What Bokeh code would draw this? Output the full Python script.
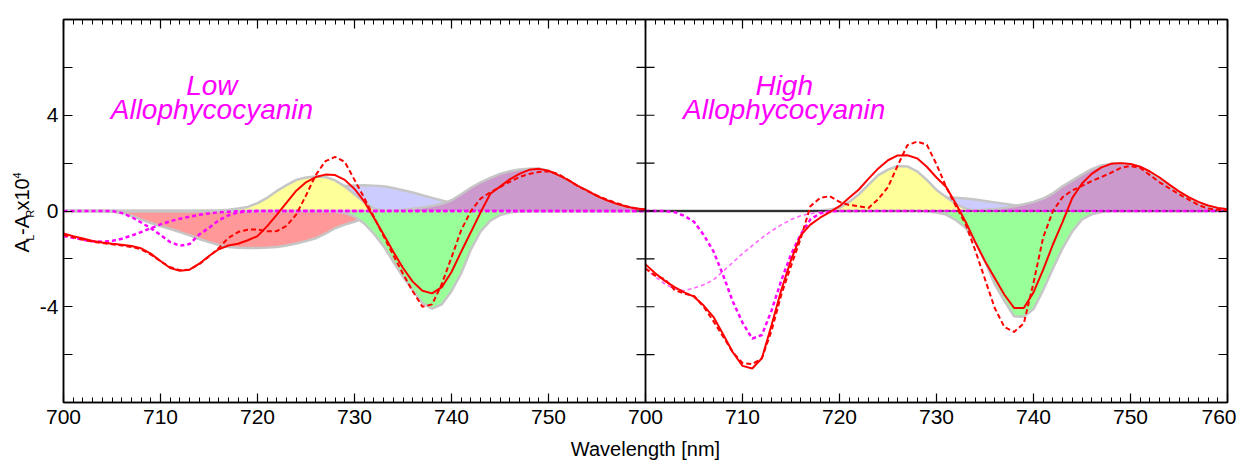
import math
from bokeh.plotting import figure
from bokeh.layouts import row
from bokeh.models import FixedTicker, LinearAxis, Span, Label, Range1d
from bokeh.embed import file_html
from bokeh.resources import INLINE

# ---------------- data ----------------
wavelength = list(range(700, 761))          # nm, 1 nm steps
x_tick_labels = ["700", "710", "720", "730", "740", "750", "700", "710", "720", "730", "740", "750", "760"]
y_labelled_ticks = [-4, 0, 4]
y_tick_labels = ["-4", "0", "4"]
y_unlabelled_ticks = [-6, -2, 2, 6]

# Low allophycocyanin (left panel)
low_red_band = [0, 0, 0, 0, 0, -0.02, -0.08, -0.2, -0.36, -0.5,
                -0.63, -0.75, -0.88, -1.02, -1.17, -1.3, -1.42, -1.5, -1.54, -1.55,
                -1.55, -1.53, -1.5, -1.44, -1.36, -1.26, -1.14, -0.95, -0.72, -0.57,
                -0.45, -0.3, -0.15, -0.05, 0, 0, 0, 0, 0, 0,
                0, 0, 0, 0, 0, 0, 0, 0, 0, 0,
                0, 0, 0, 0, 0, 0, 0, 0, 0, 0, 0]
low_blue_band = [0, 0, 0, 0, 0, 0, 0, 0, 0, 0,
                 0, 0, 0, 0, 0, 0, 0, 0, 0, 0,
                 0.05, 0.1, 0.18, 0.28, 0.4, 0.55, 0.7, 0.85, 0.97, 1.04,
                 1.07, 1.08, 1.06, 1.03, 0.96, 0.87, 0.77, 0.66, 0.55, 0.44,
                 0.34, 0.24, 0.15, 0.08, 0.04, 0.02, 0, 0, 0, 0,
                 0, 0, 0, 0, 0, 0, 0, 0, 0, 0, 0]
low_yellow_band = [0, 0, 0, 0, 0, 0, 0, 0, 0, 0,
                   0, 0, 0, 0, 0, 0.01, 0.02, 0.05, 0.1, 0.17,
                   0.33, 0.55, 0.84, 1.08, 1.3, 1.4, 1.44, 1.42, 1.28, 1.03,
                   0.7, 0.36, 0.1, 0.02, 0, 0, 0, 0, 0, 0,
                   0, 0, 0, 0, 0, 0, 0, 0, 0, 0,
                   0, 0, 0, 0, 0, 0, 0, 0, 0, 0, 0]
low_green_band = [0, 0, 0, 0, 0, 0, 0, 0, 0, 0,
                  0, 0, 0, 0, 0, 0, 0, 0, 0, 0,
                  0, 0, 0, 0, 0, 0, 0, 0, -0.02, -0.08,
                  -0.22, -0.52, -0.95, -1.47, -2.12, -2.75, -3.3, -3.85, -4.08, -3.9,
                  -3.35, -2.6, -1.6, -0.85, -0.4, -0.17, -0.06, -0.02, 0, 0,
                  0, 0, 0, 0, 0, 0, 0, 0, 0, 0, 0]
low_purple_band = [0, 0, 0, 0, 0, 0, 0, 0, 0, 0,
                   0, 0, 0, 0, 0, 0, 0, 0, 0, 0,
                   0, 0, 0, 0, 0, 0, 0, 0, 0, 0,
                   0, 0, 0, 0, 0.02, 0.05, 0.09, 0.15, 0.22, 0.3,
                   0.45, 0.7, 0.97, 1.2, 1.38, 1.55, 1.66, 1.73, 1.77, 1.78,
                   1.68, 1.5, 1.3, 1.05, 0.85, 0.62, 0.45, 0.3, 0.19, 0.1, 0.06]
low_cd_solid = [-0.94, -1.05, -1.15, -1.25, -1.32, -1.37, -1.41, -1.46, -1.56, -1.78,
                -2.09, -2.38, -2.5, -2.45, -2.2, -1.88, -1.6, -1.44, -1.37, -1.22,
                -1.05, -0.63, -0.15, 0.35, 0.85, 1.2, 1.42, 1.52, 1.5, 1.3,
                0.92, 0.4, -0.28, -0.98, -1.7, -2.38, -2.95, -3.33, -3.44, -3.18,
                -2.55, -1.7, -0.88, -0.05, 0.72, 1.02, 1.32, 1.55, 1.72, 1.76,
                1.68, 1.5, 1.3, 1.05, 0.85, 0.62, 0.45, 0.3, 0.19, 0.1, 0.06]
low_cd_dashed = [-1.0, -1.1, -1.2, -1.28, -1.34, -1.39, -1.44, -1.5, -1.6, -1.82,
                 -2.1, -2.35, -2.47, -2.45, -2.22, -1.9, -1.55, -1.12, -0.88, -0.78,
                 -0.77, -0.85, -0.84, -0.62, -0.14, 0.65, 1.5, 2.08, 2.26, 2.05,
                 1.3, 0.55, -0.25, -1.05, -1.85, -2.62, -3.35, -4.0, -3.9, -3.05,
                 -1.94, -0.8, 0.0, 0.52, 0.78, 1.0, 1.22, 1.42, 1.55, 1.63,
                 1.66, 1.55, 1.3, 1.05, 0.83, 0.65, 0.48, 0.33, 0.2, 0.11, 0.06]
low_magenta_a = [0, 0, 0, 0, 0, 0, -0.08, -0.25, -0.48, -0.72,
                 -1.0, -1.3, -1.45, -1.38, -0.98, -0.7, -0.39, -0.18, -0.06, -0.02,
                 0, 0, 0, 0, 0, 0, 0, 0, 0, 0,
                 0, 0, 0, 0, 0, 0, 0, 0, 0, 0,
                 0, 0, 0, 0, 0, 0, 0, 0, 0, 0,
                 0, 0, 0, 0, 0, 0, 0, 0, 0, 0, 0]
low_magenta_b = [-1.05, -1.12, -1.2, -1.26, -1.29, -1.25, -1.16, -1.03, -0.88, -0.72,
                 -0.56, -0.43, -0.32, -0.24, -0.16, -0.1, -0.06, -0.03, -0.01, 0,
                 0, 0, 0, 0, 0, 0, 0, 0, 0, 0,
                 0, 0, 0, 0, 0, 0, 0, 0, 0, 0,
                 0, 0, 0, 0, 0, 0, 0, 0, 0, 0,
                 0, 0, 0, 0, 0, 0, 0, 0, 0, 0, 0]

# High allophycocyanin (right panel)
high_yellow_band = [0, 0, 0, 0, 0, 0, 0, 0, 0, 0,
                    0, 0, 0, 0, 0, 0, 0, 0, 0.02, 0.06,
                    0.13, 0.38, 0.7, 1.1, 1.5, 1.73, 1.88, 1.86, 1.66, 1.3,
                    0.88, 0.58, 0.3, 0.1, 0.02, 0, 0, 0, 0, 0,
                    0, 0, 0, 0, 0, 0, 0, 0, 0, 0,
                    0, 0, 0, 0, 0, 0, 0, 0, 0, 0, 0]
high_blue_band = [0, 0, 0, 0, 0, 0, 0, 0, 0, 0,
                  0, 0, 0, 0, 0, 0, 0, 0, 0, 0,
                  0, 0, 0, 0.05, 0.1, 0.18, 0.27, 0.36, 0.45, 0.5,
                  0.54, 0.55, 0.55, 0.52, 0.48, 0.42, 0.36, 0.3, 0.24, 0.18,
                  0.12, 0.07, 0.04, 0.02, 0, 0, 0, 0, 0, 0,
                  0, 0, 0, 0, 0, 0, 0, 0, 0, 0, 0]
high_green_band = [0, 0, 0, 0, 0, 0, 0, 0, 0, 0,
                   0, 0, 0, 0, 0, 0, 0, 0, 0, 0,
                   0, 0, 0, 0, 0, 0, 0, 0, 0, -0.02,
                   -0.06, -0.15, -0.38, -0.7, -1.3, -2.1, -3.05, -3.75, -4.4, -4.42,
                   -4.1, -3.3, -2.4, -1.55, -0.85, -0.35, -0.14, -0.04, 0, 0,
                   0, 0, 0, 0, 0, 0, 0, 0, 0, 0, 0]
high_purple_band = [0, 0, 0, 0, 0, 0, 0, 0, 0, 0,
                    0, 0, 0, 0, 0, 0, 0, 0, 0, 0,
                    0, 0, 0, 0, 0, 0, 0, 0, 0, 0,
                    0, 0, 0, 0, 0.02, 0.05, 0.08, 0.13, 0.2, 0.28,
                    0.38, 0.52, 0.74, 1.03, 1.28, 1.52, 1.75, 1.9, 1.98, 2.0,
                    1.95, 1.84, 1.62, 1.35, 1.05, 0.76, 0.52, 0.34, 0.2, 0.12, 0.07]
high_cd_solid = [-2.23, -2.6, -2.92, -3.18, -3.4, -3.58, -3.95, -4.42, -5.15, -5.9,
                 -6.47, -6.58, -6.15, -4.76, -3.3, -2.05, -1.02, -0.57, -0.28, -0.05,
                 0.2, 0.55, 0.9, 1.35, 1.78, 2.12, 2.32, 2.33, 2.2, 1.85,
                 1.4, 1.0, 0.3, -0.45, -1.3, -2.1, -2.8, -3.5, -4.05, -4.05,
                 -3.4, -2.45, -1.4, -0.45, 0.55, 1.15, 1.55, 1.82, 1.97, 2.0,
                 1.96, 1.85, 1.65, 1.4, 1.1, 0.82, 0.58, 0.38, 0.23, 0.13, 0.07]
high_cd_dashed = [-2.4, -2.7, -2.85, -3.3, -3.45, -3.55, -4.0, -4.6, -5.25, -5.9,
                  -6.35, -6.4, -6.15, -5.0, -3.5, -2.3, -1.15, 0.2, 0.55, 0.62,
                  0.38, 0.25, 0.2, 0.13, 0.5, 1.0, 1.9, 2.75, 2.9, 2.77,
                  1.95, 1.0, 0.2, -0.55, -1.65, -2.85, -4.05, -4.85, -5.05, -4.7,
                  -3.0, -1.1, 0.0, 0.58, 0.86, 1.05, 1.25, 1.42, 1.6, 1.8,
                  1.88, 1.8, 1.5, 1.2, 0.95, 0.7, 0.48, 0.25, 0.1, 0.05, 0.03]
high_magenta_a = [0, 0, 0, -0.05, -0.2, -0.45, -1.0, -1.68, -2.68, -3.78,
                  -4.66, -5.33, -5.18, -4.15, -2.9, -1.82, -0.98, -0.35, -0.1, -0.02,
                  0, 0, 0, 0, 0, 0, 0, 0, 0, 0,
                  0, 0, 0, 0, 0, 0, 0, 0, 0, 0,
                  0, 0, 0, 0, 0, 0, 0, 0, 0, 0,
                  0, 0, 0, 0, 0, 0, 0, 0, 0, 0, 0]
high_magenta_b = [-2.4, -2.75, -3.05, -3.25, -3.33, -3.22, -3.08, -2.88, -2.52, -2.15,
                  -1.78, -1.45, -1.12, -0.83, -0.58, -0.36, -0.2, -0.11, -0.05, -0.02,
                  0, 0, 0, 0, 0, 0, 0, 0, 0, 0,
                  0, 0, 0, 0, 0, 0, 0, 0, 0, 0,
                  0, 0, 0, 0, 0, 0, 0, 0, 0, 0,
                  0, 0, 0, 0, 0, 0, 0, 0, 0, 0, 0]

# ---------------- layout helpers ----------------
PANEL_SHIFT = wavelength[-1] - wavelength[0]       # right panel placed after the left one
x_low = wavelength
x_high = [w + PANEL_SHIFT for w in wavelength]
zeros = [0.0] * len(wavelength)
x_major = list(range(wavelength[0], wavelength[-1] + PANEL_SHIFT + 1, 10))
x_minor = list(range(wavelength[0], wavelength[-1] + PANEL_SHIFT + 1, 1))
y_all_ticks = sorted(y_labelled_ticks + y_unlabelled_ticks)

FONT = "Liberation Sans"
RED = "#ff0000"
MAGENTA = "#ff00ff"
OUTLINE = "#c6c6c6"
C_RED, C_BLUE, C_YEL, C_GRN, C_PUR = "#ff9999", "#ccccff", "#ffff99", "#99ff99", "#cc99cc"

TITLE_W = 35          # strip on the left that holds the rotated y title
H = 462

p = figure(width=1236 - TITLE_W, height=H,
           x_range=Range1d(wavelength[0], wavelength[-1] + PANEL_SHIFT),
           y_range=Range1d(-8, 8),
           output_backend="svg", toolbar_location=None,
           x_axis_location=None, y_axis_location=None,
           min_border_left=28, min_border_right=9, min_border_top=19, min_border_bottom=57)
p.outline_line_color = "black"
p.outline_line_width = 1.5
p.background_fill_color = "white"
p.border_fill_color = "white"
p.grid.grid_line_color = None


def style_axis(ax, labels=True):
    ax.axis_line_color = "black"
    ax.axis_line_width = 1.5
    ax.major_tick_in = 9
    ax.major_tick_out = 0
    ax.minor_tick_in = 5
    ax.minor_tick_out = 0
    ax.major_tick_line_color = "black"
    ax.major_tick_line_width = 1.2
    ax.minor_tick_line_color = "black"
    ax.minor_tick_line_width = 1
    ax.major_label_text_font = FONT
    ax.major_label_text_font_size = "21px"
    ax.major_label_text_color = "black" if labels else None
    if not labels:
        ax.major_label_standoff = 0


xb = LinearAxis(ticker=FixedTicker(ticks=x_major, minor_ticks=x_minor),
                major_label_overrides=dict(zip(x_major, x_tick_labels)),
                axis_label="Wavelength [nm]")
style_axis(xb)
xb.major_label_standoff = 7
xb.axis_label_standoff = 11
xb.axis_label_text_font = FONT
xb.axis_label_text_font_style = "normal"
xb.axis_label_text_font_size = "20px"
xb.axis_label_text_color = "black"
p.add_layout(xb, "below")

xt = LinearAxis(ticker=FixedTicker(ticks=x_major, minor_ticks=x_minor))
style_axis(xt, labels=False)
p.add_layout(xt, "above")

yl = LinearAxis(ticker=FixedTicker(ticks=y_labelled_ticks, minor_ticks=y_unlabelled_ticks),
                major_label_overrides=dict(zip(y_labelled_ticks, y_tick_labels)))
style_axis(yl)
yl.minor_tick_in = 9
yl.minor_tick_line_width = 1.2
yl.major_label_standoff = 5
p.add_layout(yl, "left")

yr = LinearAxis(ticker=FixedTicker(ticks=y_all_ticks, minor_ticks=[]))
style_axis(yr, labels=False)
p.add_layout(yr, "right")


def draw_panel(x, bands, solid, dashed, mag_a, mag_b, mag_b_color, mag_b_width, zero_line):
    for vals, col in bands:
        p.varea(x=x, y1=zeros, y2=vals, fill_color=col)
        p.line(x, vals, line_color=OUTLINE, line_width=2.5)
    if zero_line:
        p.line(x, zeros, line_color="black", line_width=1.6)
    p.line(x, mag_b, line_color=mag_b_color, line_width=mag_b_width, line_dash="4 3")
    p.line(x, mag_a, line_color=MAGENTA, line_width=2.5, line_dash="4 3")
    p.line(x, dashed, line_color=RED, line_width=2, line_dash="5 3")
    p.line(x, solid, line_color=RED, line_width=2)


draw_panel(x_low,
           [(low_red_band, C_RED), (low_blue_band, C_BLUE), (low_yellow_band, C_YEL),
            (low_green_band, C_GRN), (low_purple_band, C_PUR)],
           low_cd_solid, low_cd_dashed, low_magenta_a, low_magenta_b, MAGENTA, 2.5, False)
draw_panel(x_high,
           [(high_blue_band, C_BLUE), (high_yellow_band, C_YEL),
            (high_green_band, C_GRN), (high_purple_band, C_PUR)],
           high_cd_solid, high_cd_dashed, high_magenta_a, high_magenta_b, "#ff66ff", 1.6, True)

# panel divider with inward ticks on both sides
boundary = wavelength[-1]
p.add_layout(Span(location=boundary, dimension="height", line_color="black", line_width=1.8))
p.scatter(x=[boundary] * len(y_all_ticks), y=y_all_ticks, marker="dash", size=18,
          line_color="black", line_width=1.2)

# panel titles
for xc, first in [(715.3, "Low"), (714.3 + PANEL_SHIFT, "High")]:
    for yy, txt in [(5.25, first), (4.25, "Allophycocyanin")]:
        p.add_layout(Label(x=xc, y=yy, text=txt, text_align="center", text_baseline="middle",
                           text_font=FONT, text_font_style="italic", text_font_size="28px",
                           text_color=MAGENTA))

# ---------------- y-axis title strip: A_L-A_R x10^4 (rotated) ----------------
t = figure(width=TITLE_W, height=H, x_range=Range1d(0, TITLE_W), y_range=Range1d(H, 0),
           output_backend="svg", toolbar_location=None, min_border=0,
           x_axis_location=None, y_axis_location=None)
t.outline_line_color = None
t.grid.grid_line_color = None
t.background_fill_color = "white"
t.border_fill_color = "white"

widths = {"A": 0.667, "L": 0.556, "-": 0.333, "R": 0.722, " ": 0.278, "x": 0.5,
          "1": 0.556, "0": 0.556, "4": 0.556}
MAIN, SMALL = 20, 11
start_py = 281.0
centre_x = {"main": 21.5, "sub": 29.0, "sup": 16.0}
parts = [("A", "main"), ("L", "sub"), ("-A", "main"), ("R", "sub"), (" x10", "main"), ("4", "sup")]
pos = 0.0
for txt, kind in parts:
    size = MAIN if kind == "main" else SMALL
    t.add_layout(Label(x=centre_x[kind], y=start_py - pos, text=txt, angle=math.pi / 2,
                       text_align="left", text_baseline="middle", text_font=FONT,
                       text_font_size=f"{size}px", text_color="black"))
    pos += sum(widths[c] for c in txt) * size + 0.8

layout = row(t, p)
open("out.html", "w").write(file_html(layout, INLINE))
